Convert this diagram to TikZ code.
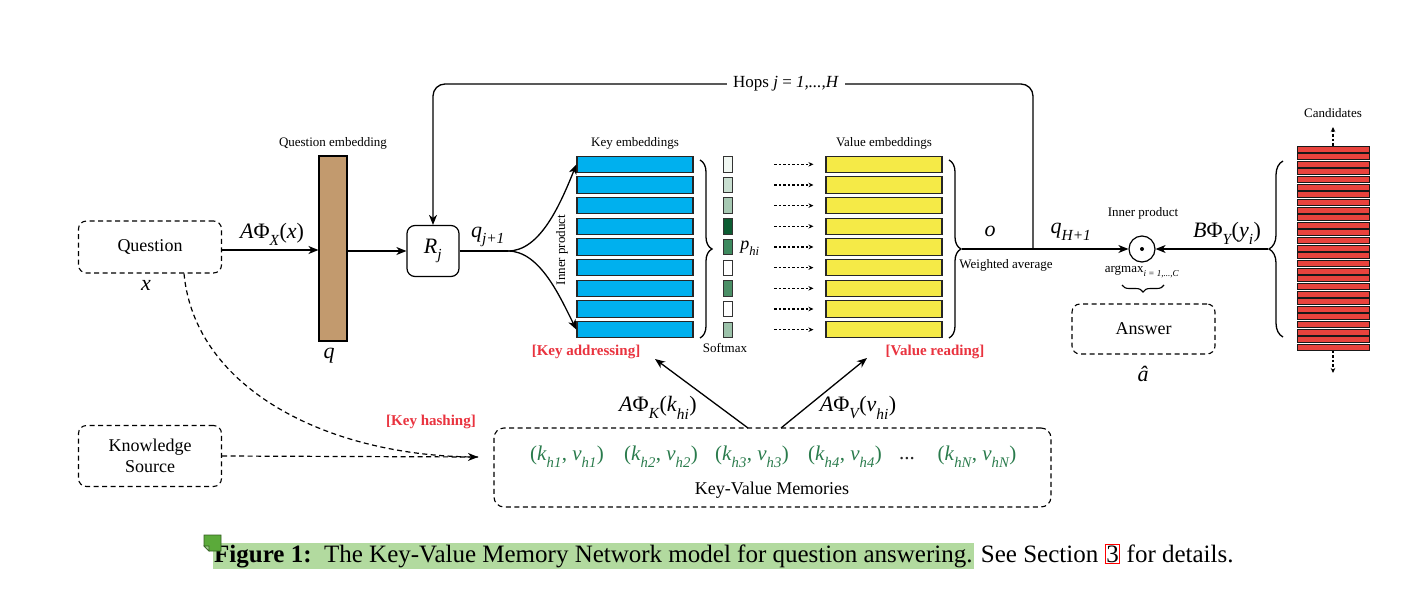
\documentclass[tikz,border=0pt]{standalone}
\usepackage{fontspec}
\setmainfont{Liberation Serif}
\usetikzlibrary{arrows.meta,decorations.pathreplacing,calc}
\definecolor{keyc}{HTML}{00B0EE}
\definecolor{valc}{HTML}{F5EA47}
\definecolor{candc}{HTML}{E8433D}
\definecolor{qec}{HTML}{C29A6E}
\definecolor{memg}{HTML}{2A7B4C}
\definecolor{kred}{HTML}{E9333F}
\definecolor{hlg}{HTML}{B2DA9F}
\definecolor{icong}{HTML}{5BAA3A}
\definecolor{smA}{HTML}{F0F7F2}
\definecolor{smB}{HTML}{C9DFD1}
\definecolor{smC}{HTML}{A7C9B3}
\definecolor{smD}{HTML}{0C5C32}
\definecolor{smE}{HTML}{3E8A5F}
\definecolor{smF}{HTML}{FFFFFF}
\definecolor{smG}{HTML}{4B8F66}
\definecolor{smH}{HTML}{FFFFFF}
\definecolor{smI}{HTML}{9CC2AA}
\newcommand\lo[1]{\raisebox{-0.17em}{\textsubscript{\itshape #1}}}
\newcommand\fs[1]{\fontsize{#1}{#1}\selectfont}
\begin{document}
\begin{tikzpicture}[x=1pt,y=-1pt,
  arr/.style={-{Stealth[length=10pt,width=8pt,inset=3pt]},line width=1.3pt},
  plain/.style={line width=1.3pt},
  dbox/.style={draw,dash pattern=on 5pt off 3.5pt,line width=1.1pt,rounded corners=8pt,minimum width=143pt,align=center,font=\fs{18}},
  bar/.style={draw=black!85,line width=1.1pt,minimum width=116pt,minimum height=16.5pt,inner sep=0pt},
  keybar/.style={bar,fill=keyc},
  valbar/.style={bar,fill=valc},
  smbox/.style={draw=black!80,line width=0.8pt,minimum width=9pt,minimum height=15.5pt,inner sep=0pt},
  candbar/.style={draw=black!90,line width=0.9pt,fill=candc,minimum width=72pt,minimum height=6pt,inner sep=0pt},
  brace/.style={decorate,decoration={brace,amplitude=12pt},line width=1.3pt},
  txt/.style={inner sep=0pt},
  lblS/.style={txt,font=\fs{13}},
  lblB/.style={txt,font=\fs{18}},
  lblM/.style={txt,font=\fs{22}},
  redlbl/.style={txt,font=\fs{15}\bfseries,text=kred},
  dotarr/.style={-{Stealth[length=5pt,width=4.5pt]},line width=1.1pt,dash pattern=on 2.5pt off 2pt},
]
\useasboundingbox (0,0) rectangle (1406,592);

% ---------- left part ----------
\node[dbox,minimum height=52pt] (qb) at (150,247) {Question};
\node[lblM] (xl) at (146,285) {\textit{x}};
\node[draw,line width=1.1pt,fill=qec,minimum width=28pt,minimum height=185pt,inner sep=0pt] (qe) at (333,248.5) {};
\node[lblS] (qel) at (333,143) {Question embedding};
\node[lblM] (ql) at (329,356) {\textit{q}};
\draw[arr] (qb.east |- 0,250) -- (qe.west |- 0,250);
\node[lblM] (axl) at (272,234) {\textit{A}Φ\lo{X}(\textit{x})};

\node[draw,line width=1.2pt,rounded corners=8pt,minimum width=52pt,minimum height=51pt,font=\fs{22}] (Rj) at (433,251) {\textit{R}\lo{j}};
\draw[arr] (qe.east |- Rj.west) -- (Rj.west);

% ---------- key embeddings ----------
\foreach \i in {0,...,8} {
  \node[keybar] (k\i) at (635,{164.3+20.67*\i}) {};
  \node[valbar] (v\i) at (884,{164.3+20.67*\i}) {};
  \draw[dotarr] ($(v\i.west)+(-51,0)$) -- ($(v\i.west)+(-12,0)$);
}
\foreach \i/\c in {0/smA,1/smB,2/smC,3/smD,4/smE,5/smF,6/smG,7/smH,8/smI}
  \node[smbox,fill=\c] (s\i) at (727.5,{164.3+20.67*\i}) {};
\node[lblS] (kel) at (635,143) {Key embeddings};
\node[lblS] (vel) at (884,143) {Value embeddings};
\node[lblS,rotate=90] (inp) at (562,250) {Inner product};
\node[lblS] (sml) at (725,348) {Softmax};
\node[txt,font=\fs{18}] (phi) at (750,248) {\textit{p}\lo{hi}};

\coordinate (sp) at (508,251);
\draw[plain] (Rj.east) -- (sp);
\node[lblM] (qjl) at (488,237) {\textit{q}\lo{j+1}};
\draw[arr] (sp) .. controls (540,251) and (560,205) .. (k0.west);
\draw[arr] (sp) .. controls (540,251) and (560,297) .. (k8.west);

\draw[brace] (700,160) -- (700,338);
\draw[brace] (949,160) -- (949,338);
\coordinate (vb) at (962,249);

% ---------- output ----------
\node[draw,circle,line width=1.2pt,minimum size=26pt,inner sep=0pt] (ip) at (1142,249) {};
\fill (ip.center) circle (2pt);
\node[lblS] (ipl) at (1143,213) {Inner product};
\draw[arr] (vb) -- (ip.west);
\coordinate (hj) at (1033,249);
\coordinate (hopTop) at (433,84);
\draw[arr,rounded corners=12pt] (hj) |- (hopTop) -- (Rj.north);
\node[txt,fill=white,inner xsep=6pt,inner ysep=2pt,font=\fs{17}] (hops) at (786,84) {Hops \textit{j} = \textit{1,...,H}};
\node[lblM] (ol) at (990,231) {\textit{o}};
\node[lblM] (qhl) at (1071,232) {\textit{q}\lo{H+1}};
\node[lblS] (wal) at (1006,265) {Weighted average};

% ---------- candidates ----------
\foreach \i in {0,...,26}
  \node[candbar] (c\i) at (1333,{149+7.63*\i}) {};
\coordinate (ct) at (1333,127);
\coordinate (cbot) at (1333,373);
\draw[dotarr] (c0.north) -- (ct);
\draw[dotarr] (c26.south) -- (cbot);
\node[lblS] (candl) at (1333,113) {Candidates};
\draw[brace,decoration={brace,amplitude=14pt}] (1283,337) -- (1283,161);
\coordinate (cb) at (1268,249);
\draw[arr] (cb) -- (ip.east);
\node[lblM] (byl) at (1227,233) {\textit{B}Φ\lo{Y}(\textit{y}\lo{i})};

\node[txt,font=\fs{13}] (amx) at (1142,272) {argmax\lo{i = 1,...,C}};
\draw[decorate,decoration={brace,amplitude=7pt},line width=1.1pt] (1164,285) -- (1122,285);
\node[dbox,minimum height=50pt] (ans) at (1143.5,329) {Answer};
\node[lblM] (ahat) at (1143,374) {\textit{â}};

% ---------- memories ----------
\node[redlbl] (kal) at (586,352) {[Key addressing]};
\node[redlbl] (vrl) at (935,352) {[Value reading]};
\node[dbox,minimum width=557pt,minimum height=79pt,rounded corners=10pt] (mem) at (772.5,467.5) {};
\node[lblB] (kvm) at (772,490) {Key-Value Memories};
\begin{scope}[every node/.style={txt,font=\fs{21},text=memg}]
\node (p1) at (567,457) {(\textit{k}\lo{h1}, \textit{v}\lo{h1})};
\node (p2) at (661,457) {(\textit{k}\lo{h2}, \textit{v}\lo{h2})};
\node (p3) at (752,457) {(\textit{k}\lo{h3}, \textit{v}\lo{h3})};
\node (p4) at (845,457) {(\textit{k}\lo{h4}, \textit{v}\lo{h4})};
\node[text=black!85] (pd) at (907,459) {...};
\node (pn) at (977,457) {(\textit{k}\lo{hN}, \textit{v}\lo{hN})};
\end{scope}
\coordinate (ma) at (748,428);
\coordinate (mb) at (781,428);
\coordinate (kat) at (655,359);
\coordinate (vrt) at (867,358);
\draw[arr] (ma) -- (kat);
\draw[arr] (mb) -- (vrt);
\node[lblM] (akl) at (658,408) {\textit{A}Φ\lo{K}(\textit{k}\lo{hi})};
\node[lblM] (avl) at (858,408) {\textit{A}Φ\lo{V}(\textit{v}\lo{hi})};

\node[dbox,minimum height=61pt,font={\fontsize{18}{21}\selectfont}] (ks) at (150,456) {Knowledge\\Source};
\node[redlbl] (khl) at (431,422) {[Key hashing]};
\coordinate (mh) at (478,457);
\draw[-{Stealth[length=10pt,width=8pt,inset=3pt]},line width=1.2pt,dash pattern=on 5pt off 3.5pt] (ks.east) -- (mh);
\draw[line width=1.2pt,dash pattern=on 5pt off 3.5pt] ([xshift=34pt]qb.south) .. controls (195,390) and (330,457) .. (mh);

% ---------- caption ----------
\node[txt,anchor=west,fill=hlg,inner xsep=1pt,inner ysep=1pt,text height=18pt,text depth=6pt,font=\fs{25}] (cap1) at (213,556) {\textbf{Figure 1:}\hspace{0.5em}The Key-Value Memory Network model for question answering.};
\node[txt,anchor=base west,font=\fs{25}] (cap2) at ([xshift=7pt]cap1.base east) {See Section {\color{red}\fboxsep=0.5pt\fboxrule=1.2pt\fbox{\color{black}3}} for details.};
\filldraw[fill=icong,draw=icong!55!black,line width=0.8pt] (204,535) -- (221,535) -- (221,551) -- (209,551) -- (204,546) -- cycle;
\filldraw[fill=icong!60!white,draw=icong!55!black,line width=0.6pt] (204,546) -- (209,546) -- (209,551) -- cycle;
\end{tikzpicture}
\end{document}
